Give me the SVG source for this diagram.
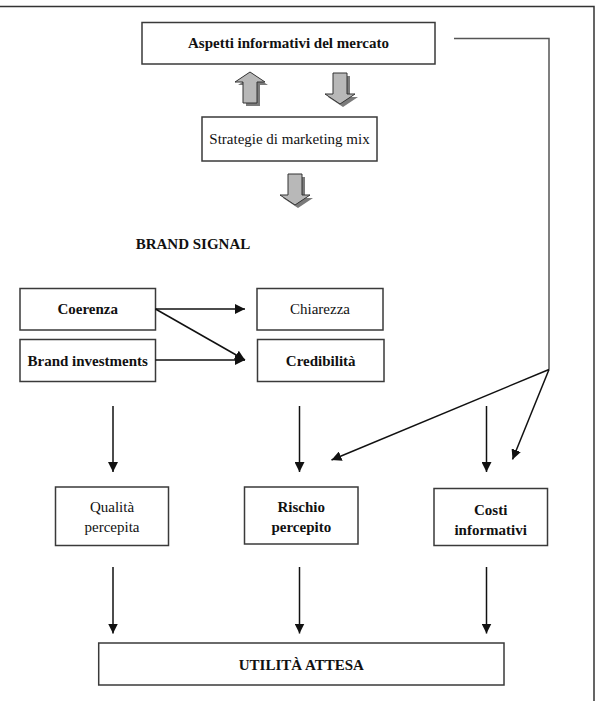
<svg xmlns="http://www.w3.org/2000/svg" width="596" height="701" viewBox="0 0 596 701">
<style>
.box{fill:#fff;stroke:#3a3a3a;stroke-width:1.5}
.t{font-family:"Liberation Serif","Times New Roman",serif;font-size:15px;fill:#111;text-anchor:middle}
.b{font-weight:bold}
.ln{stroke:#111;stroke-width:1.5;fill:none}
.gl{stroke:#555;stroke-width:1.5;fill:none}
.blk{fill:#b8b8b8;stroke:#333;stroke-width:1}
.sh{fill:#7a7a7a}
</style>
<defs>
<marker id="ah" viewBox="0 0 10 10" refX="10" refY="5" markerWidth="10" markerHeight="10" markerUnits="userSpaceOnUse" orient="auto">
<path d="M0,0 L10,5 L0,10 z" fill="#111"/>
</marker>
<path id="down" d="M-7,0 H7 V21 H15 L0,31 L-15,21 H-7 Z"/>
</defs>
<rect width="596" height="701" fill="#fff"/>
<g id="frame">
<path d="M0,6.5 H594 V701" stroke="#333" stroke-width="1.5" fill="none"/>
</g>
<g id="n-aspetti">
<rect class="box" x="142" y="22.5" width="293" height="41.5"/>
<text class="t b" x="288.5" y="48">Aspetti informativi del mercato</text>
</g>
<g id="n-strategie">
<rect class="box" x="202" y="117" width="175" height="44"/>
<text class="t" x="289.5" y="144">Strategie di marketing mix</text>
</g>
<g id="block-arrows">
<g transform="translate(253,76)"><use href="#down" class="sh" transform="rotate(180) translate(0,-30)"/></g>
<g transform="translate(250,73)"><use href="#down" class="blk" transform="rotate(180) translate(0,-30)"/></g>
<use href="#down" class="sh" x="343" y="76"/>
<use href="#down" class="blk" x="340" y="73"/>
<use href="#down" class="sh" x="298" y="177"/>
<use href="#down" class="blk" x="295" y="174"/>
</g>
<g id="title">
<text class="t b" x="193" y="249">BRAND SIGNAL</text>
</g>
<g id="n-coerenza">
<rect class="box" x="20" y="288.5" width="135.5" height="41.5"/>
<text class="t b" x="87.7" y="314">Coerenza</text>
</g>
<g id="n-brand">
<rect class="box" x="20" y="339.5" width="135.5" height="42"/>
<text class="t b" x="87.7" y="365.5">Brand investments</text>
</g>
<g id="n-chiarezza">
<rect class="box" x="257" y="288.5" width="126" height="41.5"/>
<text class="t" x="320" y="314">Chiarezza</text>
</g>
<g id="n-credibilita">
<rect class="box" x="257.5" y="339.5" width="126.5" height="42"/>
<text class="t b" x="320.7" y="365.5">Credibilità</text>
</g>
<g id="n-qualita">
<rect class="box" x="55.5" y="487" width="113" height="58.5"/>
<text class="t" x="112" y="512">Qualità</text>
<text class="t" x="112" y="532">percepita</text>
</g>
<g id="n-rischio">
<rect class="box" x="244.5" y="487" width="113.5" height="57"/>
<text class="t b" x="301.3" y="512">Rischio</text>
<text class="t b" x="301.3" y="532">percepito</text>
</g>
<g id="n-costi">
<rect class="box" x="434" y="488.5" width="113.5" height="57"/>
<text class="t b" x="490.7" y="514.5">Costi</text>
<text class="t b" x="490.7" y="534.5">informativi</text>
</g>
<g id="n-utilita">
<rect class="box" x="98.7" y="643" width="405.3" height="42"/>
<text class="t b" x="301.3" y="669.5">UTILITÀ ATTESA</text>
</g>
<g id="connectors">
<line class="ln" x1="155.5" y1="309" x2="245" y2="309" marker-end="url(#ah)"/>
<line class="ln" x1="155.5" y1="309" x2="245" y2="360" marker-end="url(#ah)"/>
<line class="ln" x1="155.5" y1="360" x2="245" y2="360" marker-end="url(#ah)"/>
<line class="ln" x1="113" y1="406" x2="113" y2="472" marker-end="url(#ah)"/>
<line class="ln" x1="299.5" y1="406" x2="299.5" y2="472" marker-end="url(#ah)"/>
<line class="ln" x1="486.5" y1="406" x2="486.5" y2="472" marker-end="url(#ah)"/>
<line class="ln" x1="113" y1="567" x2="113" y2="633.5" marker-end="url(#ah)"/>
<line class="ln" x1="299.5" y1="567" x2="299.5" y2="633.5" marker-end="url(#ah)"/>
<line class="ln" x1="486.5" y1="567" x2="486.5" y2="633.5" marker-end="url(#ah)"/>
<path class="gl" d="M454,38.5 H549 V369.5"/>
<line class="ln" x1="549" y1="369.5" x2="331.5" y2="460" marker-end="url(#ah)"/>
<line class="ln" x1="549" y1="369.5" x2="512.5" y2="459.5" marker-end="url(#ah)"/>
</g>
</svg>
